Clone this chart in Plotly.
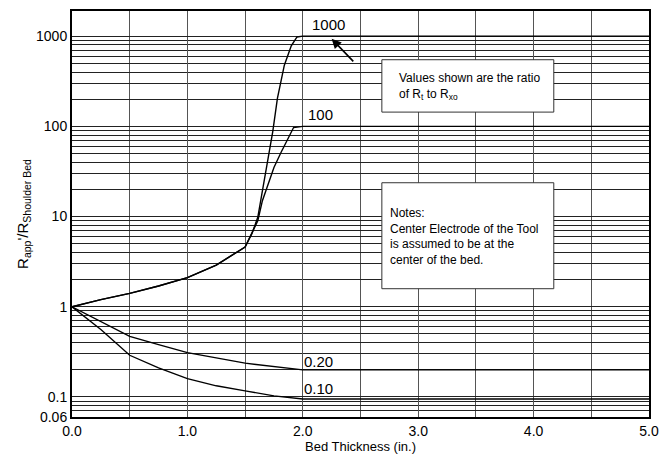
import numpy as np
import plotly.graph_objects as go

# ---- data ----
x_1000 = [0.0, 0.25, 0.5, 0.75, 1.0, 1.25, 1.5, 1.56, 1.61, 1.68, 1.74, 1.78, 1.84, 1.9, 1.95, 2.0, 3.0, 4.0, 5.0]
y_1000 = [1.0, 1.2, 1.41, 1.7, 2.1, 2.9, 4.6, 6.5, 9.8, 32, 88, 204, 477, 780, 980, 1000, 1000, 1000, 1000]

x_100 = [0.0, 0.25, 0.5, 0.75, 1.0, 1.25, 1.5, 1.56, 1.61, 1.65, 1.70, 1.75, 1.81, 1.87, 1.92, 2.0, 3.0, 4.0, 5.0]
y_100 = [1.0, 1.2, 1.41, 1.7, 2.1, 2.9, 4.6, 6.5, 9.0, 15, 23, 35, 51, 74, 97, 100, 100, 100, 100]

x_020 = [0.0, 0.25, 0.5, 0.75, 1.0, 1.5, 2.0, 3.0, 4.0, 5.0]
y_020 = [1.0, 0.69, 0.47, 0.38, 0.31, 0.237, 0.2, 0.2, 0.2, 0.2]

x_010 = [0.0, 0.25, 0.5, 0.75, 1.0, 1.25, 1.5, 1.75, 2.0, 3.0, 4.0, 5.0]
y_010 = [1.0, 0.56, 0.29, 0.21, 0.16, 0.133, 0.117, 0.103, 0.095, 0.095, 0.095, 0.095]

curve_labels = ["1000", "100", "0.20", "0.10"]
label_x = [2.22, 2.15, 2.14, 2.14]
label_y = [1340, 135, 0.25, 0.125]

x_ticks = [0.0, 1.0, 2.0, 3.0, 4.0, 5.0]
x_ticktext = ["0.0", "1.0", "2.0", "3.0", "4.0", "5.0"]
y_major = [0.06, 0.1, 1, 10, 100, 1000]
y_major_text = ["0.06", "0.1", "1", "10", "100", "1000"]

FONT = "Liberation Sans, Arial, Helvetica, sans-serif"

fig = go.Figure()
for xs, ys in [(x_1000, y_1000), (x_100, y_100), (x_020, y_020), (x_010, y_010)]:
    fig.add_trace(go.Scatter(x=xs, y=ys, mode="lines",
                             line=dict(color="black", width=1.4),
                             showlegend=False, hoverinfo="skip"))

# minor grid values: every 0.5 in x, log 2..9 values in y
x_minor = [i * 0.5 + 0.5 for i in range(0, 10, 2)]
y_minor = []
for dec in [0.01, 0.1, 1, 10, 100]:
    for m in range(1, 10):
        v = round(m * dec, 6)
        if 0.06 <= v < 1000 and v not in y_major:
            y_minor.append(v)

fig.update_xaxes(range=[0, 5], tickvals=x_ticks, ticktext=x_ticktext,
                 showgrid=True, gridcolor="#555", gridwidth=1,
                 minor=dict(tickvals=x_minor, showgrid=True, gridcolor="#555", gridwidth=1, ticks=""),
                 showline=True, linecolor="black", linewidth=2, mirror=True,
                 ticks="", zeroline=False,
                 tickfont=dict(family=FONT, size=14, color="black"),
                 title=dict(text="Bed Thickness (in.)", font=dict(family=FONT, size=13, color="black"),
                            standoff=3))
fig.update_yaxes(type="log", range=[np.log10(0.06), np.log10(1900)],
                 tickvals=y_major, ticktext=y_major_text,
                 showgrid=True, gridcolor="#222", gridwidth=1,
                 minor=dict(tickvals=y_minor, showgrid=True, gridcolor="#222", gridwidth=1, ticks=""),
                 showline=True, linecolor="black", linewidth=2, mirror=True,
                 ticks="", zeroline=False,
                 tickfont=dict(family=FONT, size=14, color="black"),
                 title=dict(text="R<sub>app</sub>'/R<sub>Shoulder Bed</sub>",
                            font=dict(family=FONT, size=15, color="black"), standoff=4))

annotations = []
for t, lx, ly in zip(curve_labels, label_x, label_y):
    annotations.append(dict(x=lx, y=np.log10(ly), xref="x", yref="y", text=t,
                            showarrow=False,
                            font=dict(family=FONT, size=15, color="black")))

# arrow from the note box to the 1000 curve
annotations.append(dict(x=2.25, y=np.log10(935), xref="x", yref="y",
                        ax=2.45, ay=np.log10(505), axref="x", ayref="y",
                        text="", showarrow=True, arrowhead=2, arrowsize=1.2,
                        arrowwidth=1.6, arrowcolor="black"))

# boxes
shapes = [
    dict(type="rect", xref="paper", yref="paper", x0=0.537, x1=0.835, y0=0.751, y1=0.880,
         fillcolor="white", line=dict(color="#333", width=1), layer="above"),
    dict(type="rect", xref="paper", yref="paper", x0=0.537, x1=0.835, y0=0.316, y1=0.577,
         fillcolor="white", line=dict(color="#333", width=1), layer="above"),
]
annotations.append(dict(x=0.564, y=0.815, xref="paper", yref="paper", xanchor="left",
                        yanchor="middle", align="left", showarrow=False,
                        text="Values shown are the ratio<br>of R<sub>t</sub> to R<sub>xo</sub>",
                        font=dict(family=FONT, size=12, color="black")))
annotations.append(dict(x=0.547, y=0.445, xref="paper", yref="paper", xanchor="left",
                        yanchor="middle", align="left", showarrow=False,
                        text="Notes:<br>Center Electrode of the Tool<br>is assumed to be at the<br>center of the bed.",
                        font=dict(family=FONT, size=12, color="black")))

fig.update_layout(width=668, height=462,
                  margin=dict(l=72, r=14, t=9, b=45),
                  paper_bgcolor="white", plot_bgcolor="white",
                  shapes=shapes, annotations=annotations,
                  font=dict(family=FONT, color="black"))

fig.write_html("out.html", config={"displayModeBar": False},
               post_script="document.body.style.margin='0px';document.body.style.overflow='hidden';")
